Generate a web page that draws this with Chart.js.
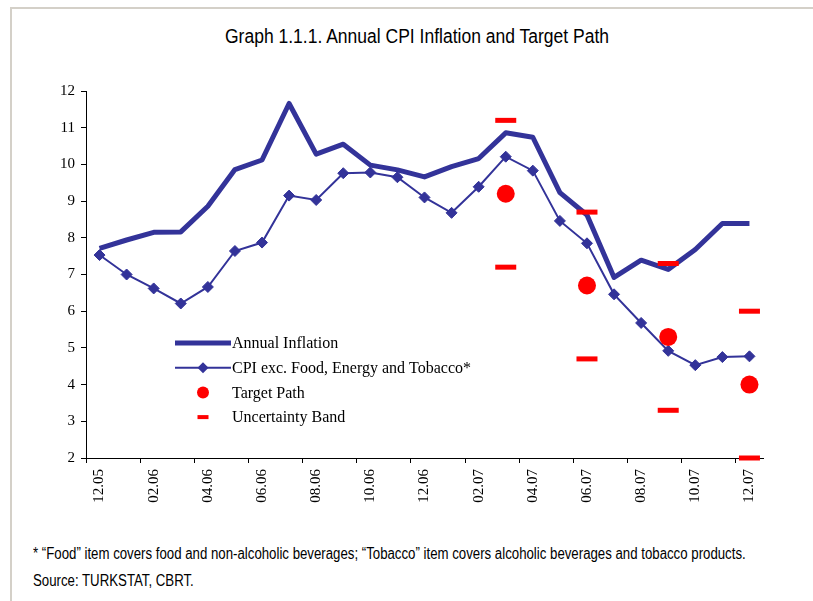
<!DOCTYPE html>
<html>
<head>
<meta charset="utf-8">
<script src="https://cdn.jsdelivr.net/npm/chart.js@4/dist/chart.umd.min.js"></script>
<style>
  body { margin: 0; background: #fff; }
  #page { position: relative; width: 813px; height: 601px; overflow: hidden; background: #fff; }
  #frameTop { position: absolute; left: 10px; top: 7px; width: 803px; height: 2px; background: #d4d0c8; }
  #frameLeft { position: absolute; left: 10px; top: 7px; width: 2px; height: 594px; background: #d4d0c8; }
  #myChart { position: absolute; left: 0; top: 0; }
  #titulo { position: absolute; left: 117px; top: 24px; width: 600px; text-align: center; font-family: "Liberation Sans", Arial, sans-serif; font-size: 20px; line-height: 24px; color: #000; white-space: nowrap; transform: scaleX(0.875); transform-origin: 300px 0; }
  #notes { position: absolute; left: 33px; top: 540px; font-family: "Liberation Sans", Arial, sans-serif; font-size: 16px; line-height: 27px; color: #000; white-space: nowrap; transform: scaleX(0.827); transform-origin: 0 0; }
</style>
</head>
<body>
<div id="page">
  <div id="frameTop"></div>
  <div id="frameLeft"></div>
  <div id="titulo">Graph 1.1.1. Annual CPI Inflation and Target Path</div>
  <canvas id="myChart" width="813" height="520"></canvas>
  <div id="notes">
    <div>* “Food” item covers food and non-alcoholic beverages; “Tobacco” item covers alcoholic beverages and tobacco products.</div>
    <div>Source: TURKSTAT, CBRT.</div>
  </div>
</div>
<script>
// meses (mm.yy)
var months = ["12.05", "01.06", "02.06", "03.06", "04.06", "05.06", "06.06", "07.06", "08.06",
    "09.06", "10.06", "11.06", "12.06", "01.07", "02.07", "03.07", "04.07", "05.07", "06.07",
    "07.07", "08.07", "09.07", "10.07", "11.07", "12.07"];

var annualInflation = [7.71, 7.94, 8.15, 8.16, 8.86, 9.86, 10.12, 11.66, 10.28, 10.55, 9.98, 9.85,
    9.66, 9.94, 10.16, 10.86, 10.74, 9.23, 8.62, 6.92, 7.39, 7.14, 7.68, 8.39, 8.39];

var coreCPI = [7.53, 7.00, 6.62, 6.21, 6.66, 7.64, 7.87, 9.15, 9.03, 9.76, 9.78, 9.65,
    9.10, 8.68, 9.39, 10.21, 9.83, 8.46, 7.85, 6.46, 5.68, 4.92, 4.53, 4.75, 4.77];

var targetMonths = ["03.07", "06.07", "09.07", "12.07"];
var targetPath = [9.2, 6.7, 5.3, 4.0];
var bandUpper = [11.2, 8.7, 7.3, 6.0];
var bandLower = [7.2, 4.7, 3.3, 2.0];

var yTicks = [2, 3, 4, 5, 6, 7, 8, 9, 10, 11, 12];

var azul = "#333399";
var rojo = "#ff0000";
var serif = "'Liberation Serif', 'Times New Roman', serif";

function puntos(valores) {
    return valores.map(function (v, i) {
        return { x: targetMonths[i], y: v };
    });
}

// leyenda dibujada dentro del area del grafico
var leyenda = {
    id: "leyenda",
    afterDraw: function (chart) {
        var ctx = chart.ctx;
        var area = chart.chartArea;
        var x0 = area.left + 89;
        var y0 = area.top + 252;
        var filas = 24.7;
        var texto = ["Annual Inflation", "CPI exc. Food, Energy and Tobacco*", "Target Path", "Uncertainty Band"];

        ctx.save();
        ctx.lineCap = "butt";

        ctx.strokeStyle = azul;
        ctx.lineWidth = 5;
        ctx.beginPath();
        ctx.moveTo(x0, y0);
        ctx.lineTo(x0 + 56, y0);
        ctx.stroke();

        var y1 = y0 + filas;
        ctx.lineWidth = 2;
        ctx.beginPath();
        ctx.moveTo(x0, y1);
        ctx.lineTo(x0 + 56, y1);
        ctx.stroke();
        ctx.fillStyle = azul;
        ctx.beginPath();
        ctx.moveTo(x0 + 28, y1 - 5.5);
        ctx.lineTo(x0 + 33.5, y1);
        ctx.lineTo(x0 + 28, y1 + 5.5);
        ctx.lineTo(x0 + 22.5, y1);
        ctx.closePath();
        ctx.fill();

        ctx.fillStyle = rojo;
        ctx.beginPath();
        ctx.arc(x0 + 28, y0 + filas * 2, 6, 0, Math.PI * 2);
        ctx.fill();

        ctx.fillRect(x0 + 22.5, y0 + filas * 3 - 2, 11, 4);

        ctx.fillStyle = "#000";
        ctx.font = "16px " + serif;
        ctx.textBaseline = "middle";
        ctx.textAlign = "left";
        for (var i = 0; i < texto.length; i++) {
            ctx.fillText(texto[i], x0 + 57, y0 + filas * i + 1);
        }
        ctx.restore();
    }
};

var ctx = document.getElementById("myChart").getContext("2d");
var myChart = new Chart(ctx, {
    type: "line",
    data: {
        labels: months,
        datasets: [{
            label: "Uncertainty Band",
            data: puntos(bandUpper),
            showLine: false,
            pointStyle: "line",
            pointRadius: 10.5,
            pointHoverRadius: 10.5,
            borderColor: rojo,
            borderWidth: 5,
            clip: false,
            order: 0
        }, {
            label: "Uncertainty Band (lower)",
            data: puntos(bandLower),
            showLine: false,
            pointStyle: "line",
            pointRadius: 10.5,
            pointHoverRadius: 10.5,
            borderColor: rojo,
            borderWidth: 5,
            clip: false,
            order: 0
        }, {
            label: "Target Path",
            data: puntos(targetPath),
            showLine: false,
            pointStyle: "circle",
            pointRadius: 9,
            pointHoverRadius: 9,
            backgroundColor: rojo,
            borderColor: rojo,
            borderWidth: 0,
            order: 1
        }, {
            label: "CPI exc. Food, Energy and Tobacco*",
            data: coreCPI,
            borderColor: azul,
            backgroundColor: azul,
            borderWidth: 2,
            pointStyle: "rectRot",
            pointRadius: 5.5,
            pointHoverRadius: 5.5,
            pointBorderWidth: 1,
            tension: 0,
            order: 2
        }, {
            label: "Annual Inflation",
            data: annualInflation,
            borderColor: azul,
            backgroundColor: azul,
            borderWidth: 5,
            pointRadius: 0,
            tension: 0,
            borderJoinStyle: "round",
            order: 3
        }]
    },
    options: {
        responsive: false,
        animation: false,
        devicePixelRatio: 1,
        layout: {
            padding: { left: 0, right: 50, top: 91, bottom: 0 }
        },
        plugins: {
            legend: { display: false },
            tooltip: { enabled: false },
            title: { display: false }
        },
        scales: {
            x: {
                type: "category",
                offset: true,
                grid: {
                    offset: true,
                    drawOnChartArea: false,
                    drawTicks: true,
                    tickLength: 5,
                    color: function (c) {
                        return c.index % 2 === 0 ? "#000" : "rgba(0,0,0,0)";
                    }
                },
                border: { color: "#000", width: 1 },
                ticks: {
                    autoSkip: false,
                    maxRotation: 90,
                    minRotation: 90,
                    padding: 6,
                    color: "#000",
                    font: { family: serif, size: 15 },
                    callback: function (v, i) {
                        return i % 2 === 0 ? months[i] : "";
                    }
                },
                afterFit: function (scale) {
                    scale.height = 62;
                }
            },
            y: {
                min: 2,
                max: 12,
                grid: {
                    drawOnChartArea: false,
                    drawTicks: true,
                    tickLength: 5,
                    color: "#000"
                },
                border: { color: "#000", width: 1 },
                afterBuildTicks: function (scale) {
                    scale.ticks = yTicks.map(function (v) { return { value: v }; });
                },
                ticks: {
                    padding: 6,
                    color: "#000",
                    font: { family: serif, size: 15 }
                },
                afterFit: function (scale) {
                    scale.width = 86;
                }
            }
        }
    },
    plugins: [leyenda]
});
</script>
</body>
</html>
